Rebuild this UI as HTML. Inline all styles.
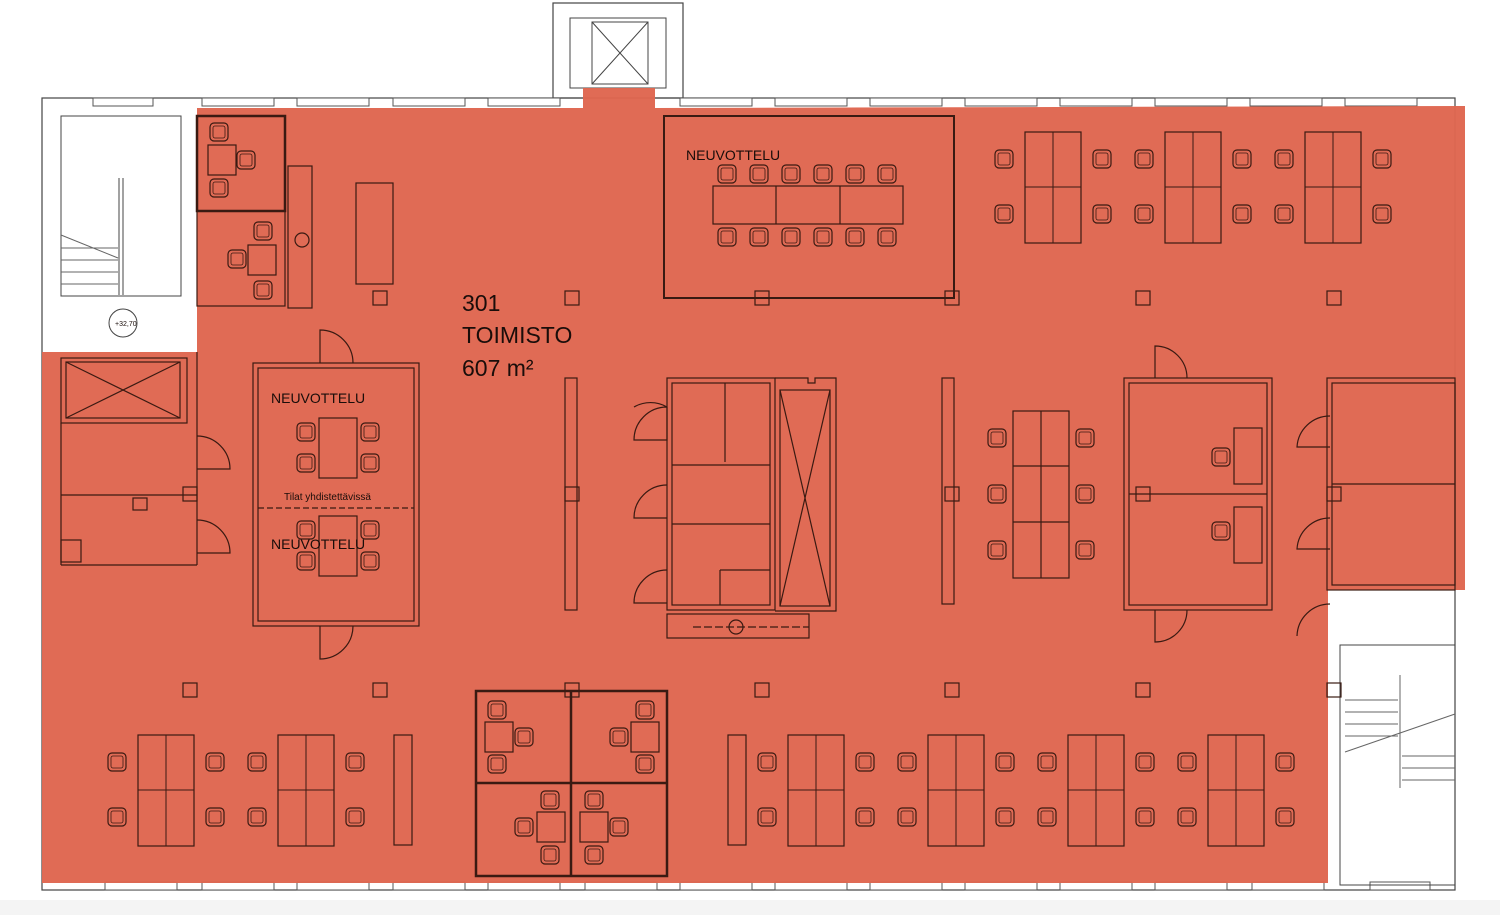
<!DOCTYPE html>
<html><head><meta charset="utf-8"><style>
html,body{margin:0;padding:0;background:#fff;width:1500px;height:915px;overflow:hidden}
svg{display:block}
text{font-family:"Liberation Sans",sans-serif;fill:#1a0d0a}
</style></head><body>
<svg width="1500" height="915" viewBox="0 0 1500 915" xmlns="http://www.w3.org/2000/svg">
<defs>
<g id="ch"><rect x="-9" y="-9" width="18" height="18" rx="4" fill="none" stroke="#3a1a12" stroke-width="1.2"/><rect x="-6" y="-6" width="12" height="12" rx="2" fill="none" stroke="#3a1a12" stroke-width="0.8"/></g>
<g id="cl">
<rect x="0" y="0" width="56" height="111" fill="none" stroke="#3a1a12" stroke-width="1.2"/>
<line x1="28" y1="0" x2="28" y2="111" stroke="#3a1a12"/>
<line x1="0" y1="55" x2="56" y2="55" stroke="#3a1a12"/>
<use href="#ch" x="-21" y="27"/><use href="#ch" x="-21" y="82"/>
<use href="#ch" x="77" y="27"/><use href="#ch" x="77" y="82"/>
</g>
<g id="col"><rect x="-7" y="-7" width="14" height="14" fill="none" stroke="#3a1a12" stroke-width="1.2"/></g>
</defs>
<rect width="1500" height="915" fill="#fff"/>
<rect x="0" y="900" width="1500" height="15" fill="#f4f4f4"/>
<!-- building outline -->
<rect x="42" y="98" width="1413" height="792" fill="none" stroke="#444" stroke-width="1.2"/>
<rect x="553" y="3" width="130" height="95" fill="none" stroke="#444" stroke-width="1.2"/>
<rect x="570" y="18" width="96" height="70" fill="none" stroke="#444"/>
<line x1="592" y1="22" x2="648" y2="84" stroke="#444"/><line x1="648" y1="22" x2="592" y2="84" stroke="#444"/>
<rect x="592" y="22" width="56" height="62" fill="none" stroke="#444"/>
<!-- stairs left (white) -->
<rect x="61" y="116" width="120" height="180" fill="none" stroke="#444"/>
<line x1="119" y1="178" x2="119" y2="295" stroke="#444"/><line x1="123" y1="178" x2="123" y2="295" stroke="#444"/>
<g stroke="#666"><line x1="61" y1="248" x2="118" y2="248"/><line x1="61" y1="260" x2="118" y2="260"/><line x1="61" y1="272" x2="118" y2="272"/><line x1="61" y1="284" x2="118" y2="284"/><line x1="61" y1="235" x2="118" y2="258"/></g>
<circle cx="123" cy="323" r="14" fill="none" stroke="#444"/><text x="115" y="326" font-size="7">+32,70</text>
<!-- windows top -->
<g fill="#fff" stroke="#555" stroke-width="1">
<rect x="93" y="98" width="60" height="8"/><rect x="202" y="98" width="72" height="8"/><rect x="297" y="98" width="72" height="8"/><rect x="393" y="98" width="72" height="8"/><rect x="488" y="98" width="72" height="8"/>
<rect x="680" y="98" width="72" height="8"/><rect x="775" y="98" width="72" height="8"/><rect x="870" y="98" width="72" height="8"/><rect x="965" y="98" width="72" height="8"/><rect x="1060" y="98" width="72" height="8"/><rect x="1155" y="98" width="72" height="8"/><rect x="1250" y="98" width="72" height="8"/><rect x="1345" y="98" width="72" height="8"/>
<rect x="105" y="882" width="72" height="8"/><rect x="202" y="882" width="72" height="8"/><rect x="297" y="882" width="72" height="8"/><rect x="393" y="882" width="72" height="8"/><rect x="488" y="882" width="72" height="8"/><rect x="585" y="882" width="72" height="8"/><rect x="680" y="882" width="72" height="8"/><rect x="775" y="882" width="72" height="8"/><rect x="870" y="882" width="72" height="8"/><rect x="965" y="882" width="72" height="8"/><rect x="1060" y="882" width="72" height="8"/><rect x="1155" y="882" width="72" height="8"/><rect x="1252" y="882" width="72" height="8"/><rect x="1370" y="882" width="60" height="8"/>
</g>
<!-- right stairs white area -->
<rect x="1340" y="645" width="115" height="240" fill="none" stroke="#444"/>
<g stroke="#666"><line x1="1345" y1="700" x2="1398" y2="700"/><line x1="1345" y1="712" x2="1398" y2="712"/><line x1="1345" y1="724" x2="1398" y2="724"/><line x1="1345" y1="736" x2="1398" y2="736"/><line x1="1402" y1="756" x2="1455" y2="756"/><line x1="1402" y1="768" x2="1455" y2="768"/><line x1="1402" y1="780" x2="1455" y2="780"/><line x1="1400" y1="675" x2="1400" y2="788"/><line x1="1345" y1="752" x2="1455" y2="714"/></g>
<!-- red fill -->
<path d="M197 108 L583 108 L583 88 L655 88 L655 108 L1465 106 L1465 590 L1328 590 L1328 883 L42 883 L42 352 L197 352 Z" fill="#DF6650" fill-opacity="0.97"/>
<!-- lines on red -->
<g fill="none" stroke="#3a1a12" stroke-width="1.2">
<rect x="197" y="116" width="88" height="95" stroke-width="2.5"/>
<rect x="197" y="211" width="88" height="95"/>
<rect x="288" y="166" width="24" height="142"/>
<circle cx="302" cy="240" r="7"/>
<rect x="356" y="183" width="37" height="101"/>
<rect x="208" y="145" width="28" height="30"/><use href="#ch" x="219" y="132"/><use href="#ch" x="246" y="160"/><use href="#ch" x="219" y="188"/>
<rect x="248" y="245" width="28" height="30"/><use href="#ch" x="263" y="231"/><use href="#ch" x="237" y="259"/><use href="#ch" x="263" y="290"/>
<rect x="664" y="116" width="290" height="182" stroke-width="2"/>
<rect x="713" y="186" width="190" height="38"/><line x1="776" y1="186" x2="776" y2="224"/><line x1="840" y1="186" x2="840" y2="224"/>
<use href="#ch" x="727" y="174"/><use href="#ch" x="759" y="174"/><use href="#ch" x="791" y="174"/><use href="#ch" x="823" y="174"/><use href="#ch" x="855" y="174"/><use href="#ch" x="887" y="174"/>
<use href="#ch" x="727" y="237"/><use href="#ch" x="759" y="237"/><use href="#ch" x="791" y="237"/><use href="#ch" x="823" y="237"/><use href="#ch" x="855" y="237"/><use href="#ch" x="887" y="237"/>
<!-- meeting rooms left -->
<rect x="253" y="363" width="166" height="263"/><rect x="258" y="368" width="156" height="253"/>
<line x1="258" y1="508" x2="414" y2="508" stroke-dasharray="6,3"/>
<rect x="319" y="418" width="38" height="60"/><rect x="319" y="516" width="38" height="60"/>
<use href="#ch" x="306" y="432"/><use href="#ch" x="306" y="463"/><use href="#ch" x="370" y="432"/><use href="#ch" x="370" y="463"/>
<use href="#ch" x="306" y="530"/><use href="#ch" x="306" y="561"/><use href="#ch" x="370" y="530"/><use href="#ch" x="370" y="561"/>
<path d="M320 363 L320 330 A33 33 0 0 1 353 363"/><path d="M320 626 L320 659 A33 33 0 0 0 353 626"/>
<!-- left rooms -->
<rect x="61" y="358" width="126" height="65"/><line x1="66" y1="362" x2="180" y2="418"/><line x1="180" y1="362" x2="66" y2="418"/><rect x="66" y="362" width="114" height="56"/>
<line x1="61" y1="495" x2="197" y2="495"/><line x1="61" y1="423" x2="61" y2="565"/><line x1="61" y1="565" x2="197" y2="565"/><line x1="197" y1="352" x2="197" y2="565"/>
<path d="M197 436 A33 33 0 0 1 230 469 L197 469"/><path d="M197 520 A33 33 0 0 1 230 553 L197 553"/>
<rect x="133" y="498" width="14" height="12"/><rect x="61" y="540" width="20" height="22"/>
<!-- partitions -->
<rect x="565" y="378" width="12" height="232"/>
<rect x="942" y="378" width="12" height="226"/>
<!-- toilet block -->
<rect x="667" y="378" width="108" height="232"/><rect x="672" y="383" width="98" height="222"/>
<line x1="672" y1="465" x2="770" y2="465"/><line x1="672" y1="524" x2="770" y2="524"/><line x1="725" y1="383" x2="725" y2="462"/><line x1="720" y1="570" x2="720" y2="605"/><line x1="720" y1="570" x2="770" y2="570"/>
<path d="M775 378 L808 378 L808 383 L815 383 L815 378 L836 378 L836 611 L775 611"/><rect x="780" y="390" width="50" height="216"/><line x1="780" y1="390" x2="830" y2="606"/><line x1="830" y1="390" x2="780" y2="606"/>
<path d="M667 407 A33 33 0 0 0 634 407 M667 407 L667 440 L634 440 A33 33 0 0 1 667 407" />
<path d="M667 485 A33 33 0 0 0 634 518 L667 518"/><path d="M667 570 A33 33 0 0 0 634 603 L667 603"/>
<rect x="667" y="614" width="142" height="24"/><circle cx="736" cy="627" r="7"/><line x1="693" y1="627" x2="809" y2="627" stroke-dasharray="8,3"/>
<!-- desk clusters middle -->
<rect x="1013" y="411" width="56" height="167"/><line x1="1041" y1="411" x2="1041" y2="578"/><line x1="1013" y1="466" x2="1069" y2="466"/><line x1="1013" y1="522" x2="1069" y2="522"/>
<use href="#ch" x="997" y="438"/><use href="#ch" x="997" y="494"/><use href="#ch" x="997" y="550"/><use href="#ch" x="1085" y="438"/><use href="#ch" x="1085" y="494"/><use href="#ch" x="1085" y="550"/>
<!-- offices right -->
<rect x="1124" y="378" width="148" height="232"/><rect x="1129" y="383" width="138" height="222"/><line x1="1129" y1="494" x2="1267" y2="494"/>
<rect x="1234" y="428" width="28" height="56"/><rect x="1234" y="507" width="28" height="56"/><use href="#ch" x="1221" y="457"/><use href="#ch" x="1221" y="531"/>
<path d="M1155 378 L1155 346 A32 32 0 0 1 1187 378"/><path d="M1155 610 L1155 642 A32 32 0 0 0 1187 610"/>
<rect x="1327" y="378" width="128" height="212"/><rect x="1332" y="383" width="123" height="202"/><line x1="1332" y1="484" x2="1455" y2="484"/>
<path d="M1330 416 A33 33 0 0 0 1297 447 L1330 447"/><path d="M1330 518 A33 33 0 0 0 1297 549 L1330 549"/><path d="M1330 604 A33 33 0 0 0 1297 636"/>
<!-- bottom meeting cubes -->
<rect x="476" y="691" width="191" height="185" stroke-width="2.5"/><line x1="571" y1="691" x2="571" y2="876" stroke-width="2.5"/><line x1="476" y1="783" x2="667" y2="783" stroke-width="2.5"/>
<rect x="485" y="722" width="28" height="30"/><use href="#ch" x="497" y="710"/><use href="#ch" x="524" y="737"/><use href="#ch" x="497" y="764"/>
<rect x="631" y="722" width="28" height="30"/><use href="#ch" x="645" y="710"/><use href="#ch" x="619" y="737"/><use href="#ch" x="645" y="764"/>
<rect x="537" y="812" width="28" height="30"/><use href="#ch" x="550" y="800"/><use href="#ch" x="524" y="827"/><use href="#ch" x="550" y="855"/>
<rect x="580" y="812" width="28" height="30"/><use href="#ch" x="594" y="800"/><use href="#ch" x="619" y="827"/><use href="#ch" x="594" y="855"/>
<rect x="394" y="735" width="18" height="110"/><rect x="728" y="735" width="18" height="110"/>
</g>
<use href="#cl" x="1025" y="132"/><use href="#cl" x="1165" y="132"/><use href="#cl" x="1305" y="132"/>
<use href="#cl" x="138" y="735"/><use href="#cl" x="278" y="735"/>
<use href="#cl" x="788" y="735"/><use href="#cl" x="928" y="735"/><use href="#cl" x="1068" y="735"/><use href="#cl" x="1208" y="735"/>
<g>
<use href="#col" x="380" y="298"/><use href="#col" x="572" y="298"/><use href="#col" x="762" y="298"/><use href="#col" x="952" y="298"/><use href="#col" x="1143" y="298"/><use href="#col" x="1334" y="298"/>
<use href="#col" x="190" y="690"/><use href="#col" x="380" y="690"/><use href="#col" x="572" y="690"/><use href="#col" x="762" y="690"/><use href="#col" x="952" y="690"/><use href="#col" x="1143" y="690"/><use href="#col" x="1334" y="690"/>
<use href="#col" x="190" y="494"/><use href="#col" x="572" y="494"/><use href="#col" x="952" y="494"/><use href="#col" x="1143" y="494"/><use href="#col" x="1334" y="494"/>
</g>
<text x="462" y="311" font-size="23">301</text>
<text x="462" y="343" font-size="23">TOIMISTO</text>
<text x="462" y="376" font-size="23">607 m²</text>
<text x="686" y="160" font-size="14">NEUVOTTELU</text>
<text x="271" y="403" font-size="14">NEUVOTTELU</text>
<text x="271" y="549" font-size="14">NEUVOTTELU</text>
<text x="284" y="500" font-size="10">Tilat yhdistettävissä</text>
</svg>
</body></html>
